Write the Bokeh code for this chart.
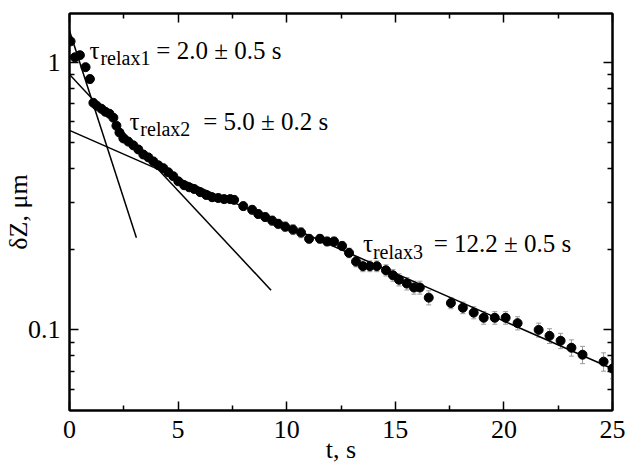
import math
from bokeh.plotting import figure
from bokeh.models import (FixedTicker, LinearAxis, LogAxis, Label,
                          Whisker, ColumnDataSource, TeeHead, CustomJSTickFormatter, Range1d)
from bokeh.embed import file_html
from bokeh.resources import INLINE

# ---------------- data ----------------
t_s = [0.05, 0.25, 0.48, 0.74, 0.94, 1.10, 1.26, 1.47, 1.65, 1.84,
       2.02, 2.16, 2.30, 2.48, 2.71, 2.94, 3.17, 3.40, 3.63, 3.86,
       4.09, 4.32, 4.55, 4.78, 5.01, 5.28, 5.51, 5.74, 6.02, 6.30,
       6.57, 6.85, 7.12, 7.40, 7.58, 8.00, 8.41, 8.69, 9.01, 9.33,
       9.61, 9.93, 10.29, 10.66, 11.03, 11.53, 11.86, 12.18, 12.55, 12.87,
       13.19, 13.51, 13.83, 14.15, 14.57, 14.89, 15.17, 15.53, 15.86, 16.13,
       16.54, 17.56, 18.11, 18.61, 19.07, 19.58, 20.08, 20.63, 21.60, 22.10,
       22.61, 23.11, 23.62, 24.59, 25.00]
dz_um = [1.196, 1.043, 1.062, 0.958, 0.865, 0.705, 0.687, 0.670, 0.653, 0.642,
         0.620, 0.579, 0.546, 0.519, 0.505, 0.489, 0.472, 0.452, 0.441, 0.426,
         0.412, 0.402, 0.388, 0.375, 0.359, 0.347, 0.341, 0.336, 0.327, 0.319,
         0.313, 0.311, 0.308, 0.308, 0.306, 0.290, 0.281, 0.271, 0.264, 0.256,
         0.249, 0.243, 0.237, 0.231, 0.219, 0.219, 0.214, 0.214, 0.206, 0.194,
         0.180, 0.173, 0.173, 0.173, 0.167, 0.160, 0.154, 0.149, 0.144, 0.144,
         0.132, 0.126, 0.121, 0.116, 0.111, 0.111, 0.111, 0.106, 0.100, 0.0950,
         0.0911, 0.0858, 0.0808, 0.0761, 0.0717]
dz_err = [0.03, 0.03, 0.03, 0.03, 0.03, 0.015, 0.015, 0.015, 0.015, 0.015,
          0.015, 0.015, 0.015, 0.015, 0.015, 0.015, 0.015, 0.015, 0.015, 0.015,
          0.010, 0.010, 0.010, 0.010, 0.010, 0.010, 0.010, 0.010, 0.010, 0.010,
          0.010, 0.010, 0.010, 0.010, 0.010, 0.010, 0.010, 0.010, 0.010, 0.010,
          0.010, 0.010, 0.010, 0.010, 0.008, 0.008, 0.008, 0.008, 0.008, 0.008,
          0.008, 0.008, 0.008, 0.008, 0.008, 0.008, 0.008, 0.008, 0.008, 0.008,
          0.008, 0.006, 0.006, 0.006, 0.006, 0.006, 0.006, 0.006, 0.006, 0.006,
          0.006, 0.006, 0.006, 0.006, 0.006]

# exponential fits  dZ = A * exp(-t / tau), drawn from t = 0 to t_end
fit_amp = [1.31, 0.90, 0.556]
fit_tau = [1.73, 5.0, 12.2]
fit_tend = [3.08, 9.28, 25.0]

fit_sub = ["relax1", "relax2", "relax3"]
fit_text = ["= 2.0 ± 0.5 s", "= 5.0 ± 0.2 s", "= 12.2 ± 0.5 s"]

x_ticks = [0, 5, 10, 15, 20, 25]
x_minor = [2.5, 7.5, 12.5, 17.5, 22.5]
y_ticks = [0.1, 1]
y_minor = [0.06, 0.07, 0.08, 0.09, 0.2, 0.3, 0.4, 0.5, 0.6, 0.7, 0.8, 0.9]

# ---------------- styling / layout ----------------
FONT = "Liberation Serif, serif"
TICKFS = "26px"
FS = "25px"
TITLEFS = "26px"
SUBFS = "20px"

p = figure(width=626, height=466, x_range=Range1d(0, 25), y_range=Range1d(0.05, 1.52),
           y_axis_type="log", output_backend="svg", toolbar_location=None, title=None,
           min_border_left=68, min_border_right=14, min_border_top=13, min_border_bottom=54)
p.xgrid.visible = False
p.ygrid.visible = False
p.outline_line_color = "black"
p.outline_line_width = 2
p.background_fill_color = "white"
p.border_fill_color = "white"


def style_axis(ax, show_labels):
    ax.axis_line_color = "black"
    ax.axis_line_width = 2
    ax.major_tick_in = 9
    ax.major_tick_out = 0
    ax.minor_tick_in = 5
    ax.minor_tick_out = 0
    ax.major_tick_line_color = "black"
    ax.minor_tick_line_color = "black"
    ax.major_tick_line_width = 1.5
    ax.minor_tick_line_width = 1.5
    if show_labels:
        ax.major_label_text_font = FONT
        ax.major_label_text_font_size = TICKFS
        ax.major_label_text_color = "black"
        ax.axis_label_text_font = FONT
        ax.axis_label_text_font_size = TITLEFS
        ax.axis_label_text_font_style = "normal"
        ax.axis_label_text_color = "black"
    else:
        ax.major_label_text_font_size = "1px"
        ax.major_label_text_color = None
        ax.major_label_standoff = 0


xt = FixedTicker(ticks=x_ticks, minor_ticks=x_minor)
yt = FixedTicker(ticks=y_ticks, minor_ticks=y_minor)
yfmt = CustomJSTickFormatter(code="return tick.toString();")

xa = p.xaxis[0]
xa.ticker = xt
style_axis(xa, True)
xa.major_label_standoff = 10
xa.axis_label = "t, s"
xa.axis_label_standoff = -6

ya = p.yaxis[0]
ya.ticker = yt
ya.formatter = yfmt
style_axis(ya, True)
ya.major_label_standoff = 9
ya.axis_label = "δZ, μm"
ya.axis_label_standoff = -8

top = LinearAxis(ticker=xt)
style_axis(top, False)
p.add_layout(top, "above")
right = LogAxis(ticker=yt, formatter=yfmt)
style_axis(right, False)
p.add_layout(right, "right")

# ---------------- marks ----------------
src = ColumnDataSource(dict(
    t=t_s, dz=dz_um,
    lo=[v - e for v, e in zip(dz_um, dz_err)],
    hi=[v + e for v, e in zip(dz_um, dz_err)],
))
err_col = "#9a9a9a"
p.add_layout(Whisker(source=src, base="t", lower="lo", upper="hi", dimension="height",
                     line_color=err_col, line_width=1,
                     lower_head=TeeHead(size=5, line_color=err_col, line_width=1),
                     upper_head=TeeHead(size=5, line_color=err_col, line_width=1)))

for a, tau, te in zip(fit_amp, fit_tau, fit_tend):
    p.line([0, te], [a, a * math.exp(-te / tau)], line_color="black", line_width=1.5)

p.scatter("t", "dz", source=src, size=9, fill_color="black", line_color="black")

# ---------------- annotations ----------------
ann_tau_x = [0.919, 2.757, 13.51]
ann_sub_x = [1.425, 3.263, 13.97]
ann_eq_x = [3.998, 6.158, 16.77]
ann_base_y = [1.108, 0.5995, 0.2100]
ann_sub_y = [1.039, 0.5623, 0.1962]

for i in range(3):
    p.add_layout(Label(x=ann_tau_x[i], y=ann_base_y[i], text="τ", text_font=FONT,
                       text_font_size=FS, text_color="black",
                       text_baseline="alphabetic", text_align="left"))
    p.add_layout(Label(x=ann_sub_x[i], y=ann_sub_y[i], text=fit_sub[i], text_font=FONT,
                       text_font_size=SUBFS, text_color="black",
                       text_baseline="alphabetic", text_align="left"))
    p.add_layout(Label(x=ann_eq_x[i], y=ann_base_y[i], text=fit_text[i], text_font=FONT,
                       text_font_size=FS, text_color="black",
                       text_baseline="alphabetic", text_align="left"))

open("out.html", "w").write(file_html(p, INLINE))
